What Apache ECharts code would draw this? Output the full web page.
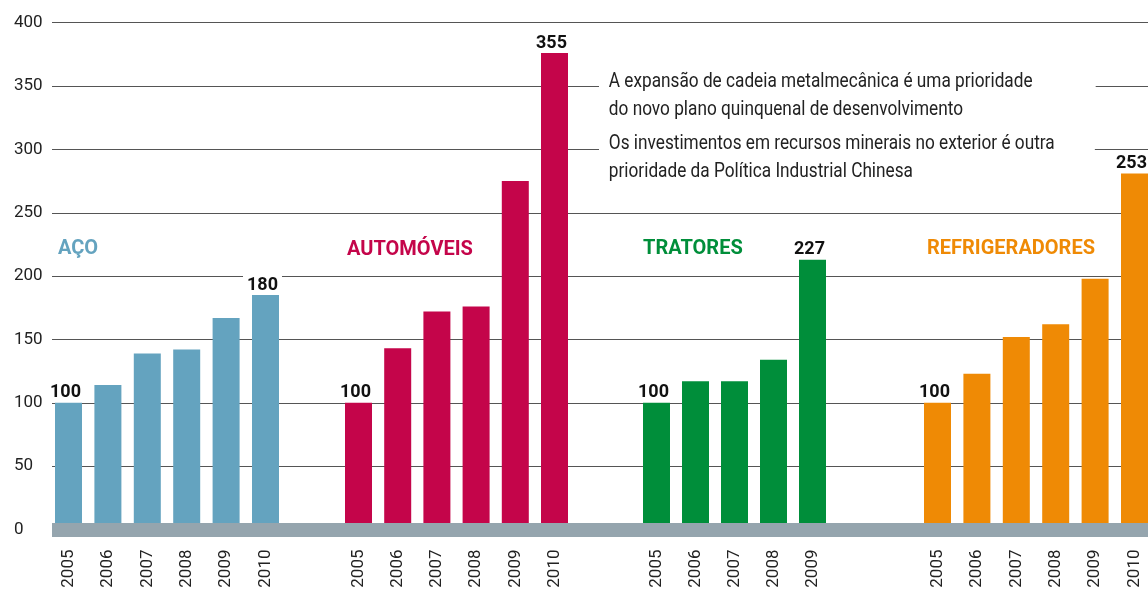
<!DOCTYPE html>
<html>
<head>
  <meta charset="UTF-8">
  <title>Cadeia metalmecânica</title>
  <script src="https://cdn.jsdelivr.net/npm/echarts@6/dist/echarts.min.js"></script>
  <style>
    html, body { margin: 0; padding: 0; background: #fff; }
    #main { width: 1148px; height: 590px; }
  </style>
</head>
<body>
<div id="main"></div>
<script type="text/javascript">
  // índices (2005 = 100)
  var years = ['2005', '2006', '2007', '2008', '2009', '2010'];
  var tratYears = ['2005', '2006', '2007', '2008', '2009'];
  var yTicks = [0, 50, 100, 150, 200, 250, 300, 350, 400];

  var acoValues = [100, 114, 139, 142, 167, 185];
  var acoLabels = ['100', '', '', '', '', '180'];
  var autoValues = [100, 143, 172, 176, 275, 376];
  var autoLabels = ['100', '', '', '', '', '355'];
  var tratValues = [100, 117, 117, 134, 213];
  var tratLabels = ['100', '', '', '', '227'];
  var refrValues = [100, 123, 152, 162, 198, 281];
  var refrLabels = ['100', '', '', '', '', '253'];

  var groupNames = ['AÇO', 'AUTOMÓVEIS', 'TRATORES', 'REFRIGERADORES'];
  var groupColors = ['#64a3bf', '#c4054a', '#008e3a', '#ef8a05'];

  var note1 = 'A expansão de cadeia metalmecânica é uma prioridade\ndo novo plano quinquenal de desenvolvimento';
  var note2 = 'Os investimentos em recursos minerais no exterior é outra\nprioridade da Política Industrial Chinesa';

  var FONT = 'Roboto, "Liberation Sans", sans-serif';
  var TOP = 22.7, BOTTOM = 60.5;

  // posição de cada grupo de barras (left, width)
  var groupBoxes = [[48.8, 236.4], [338.9, 235.2], [637, 195], [917.8, 236.4]];
  var groupCats = [years, years, tratYears, years];
  var groupValues = [acoValues, autoValues, tratValues, refrValues];
  var groupLabels = [acoLabels, autoLabels, tratLabels, refrLabels];
  var titlePos = [[58, 251], [347, 252], [643, 251], [927, 251]];

  var grids = [{ left: 52, right: 0, top: TOP, bottom: BOTTOM, outerBoundsMode: 'none' }];
  var xAxes = [{
    gridIndex: 0, type: 'category', data: [''], z: 5,
    axisLine: { show: true, lineStyle: { color: '#95a5ae', width: 14, cap: 'butt' } },
    axisTick: { show: false }, axisLabel: { show: false }
  }];
  var yAxes = [{
    gridIndex: 0, type: 'value', min: 0, max: 400, interval: 50,
    axisLine: { show: false }, axisTick: { show: false },
    axisLabel: {
      align: 'left', margin: 38, color: '#222', fontSize: 17, fontFamily: FONT,
      formatter: function (v) { return yTicks.indexOf(v) >= 0 ? String(v) : ''; }
    },
    splitLine: { lineStyle: { color: '#555', width: 1.2 } }
  }];
  var series = [];
  var titles = [];

  for (var i = 0; i < 4; i++) {
    grids.push({
      left: groupBoxes[i][0], width: groupBoxes[i][1], top: TOP, bottom: BOTTOM,
      outerBoundsMode: 'none'
    });
    xAxes.push({
      gridIndex: i + 1, type: 'category', data: groupCats[i],
      axisLine: { show: false }, axisTick: { show: false },
      axisLabel: { rotate: 90, margin: 20, color: '#222', fontSize: 17, fontFamily: FONT }
    });
    yAxes.push({ gridIndex: i + 1, type: 'value', min: 0, max: 400, show: false, splitLine: { show: false } });
    var data = groupValues[i].map(function (v, k) {
      var lab = groupLabels[i][k];
      return { value: v, label: { show: lab !== '', formatter: lab } };
    });
    series.push({
      type: 'bar', xAxisIndex: i + 1, yAxisIndex: i + 1, barWidth: 27,
      itemStyle: { color: groupColors[i] },
      label: {
        position: 'top', distance: 1, offset: [-3, 0], color: '#111', fontSize: 18, fontWeight: 'bold',
        fontFamily: FONT, backgroundColor: '#fff', padding: [0, 4]
      },
      data: data
    });
    titles.push({
      text: groupNames[i], left: titlePos[i][0], top: titlePos[i][1] - 12, padding: 0,
      textStyle: { color: groupColors[i], fontSize: 20, fontWeight: 'bold', fontFamily: FONT }
    });
  }

  function noteBlock(text, y, padRight) {
    return {
      type: 'text', x: 599, y: y, scaleX: 0.82, z: 10,
      style: {
        text: text, fill: '#222', font: '21px ' + FONT, lineHeight: 28,
        verticalAlign: 'top', align: 'left',
        backgroundColor: '#fff', padding: [4, padRight, 4, 12]
      }
    };
  }

  var myChart = echarts.init(document.getElementById('main'));
  myChart.setOption({
    animation: false,
    title: titles,
    grid: grids,
    xAxis: xAxes,
    yAxis: yAxes,
    series: series,
    graphic: [noteBlock(note1, 64, 77), noteBlock(note2, 126, 49)]
  });
</script>
</body>
</html>
